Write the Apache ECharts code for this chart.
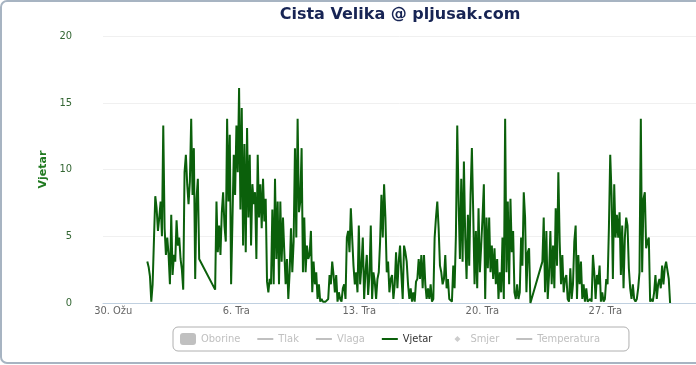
<!DOCTYPE html>
<html><head><meta charset="utf-8">
<script src="https://cdn.jsdelivr.net/npm/echarts@6/dist/echarts.min.js"></script>
<style>html,body{margin:0;padding:0;overflow:hidden;background:#fff}#c{width:696px;height:365px}</style>
</head><body><div id="c"></div>
<script>
const titleText = 'Cista Velika @ pljusak.com';
const seriesNames = ['Oborine', 'Tlak', 'Vlaga', 'Vjetar', 'Smjer', 'Temperatura'];
const tickDates = ['2015-03-30T00:00', '2015-04-06T00:00', '2015-04-13T00:00', '2015-04-20T00:00', '2015-04-27T00:00'];
const tickLabels = ['30. Ožu', '6. Tra', '13. Tra', '20. Tra', '27. Tra'];
const axisStart = '2015-03-29T10:00';
const axisEnd = '2015-05-02T03:50';
const windStart = '2015-03-31T22:30';
const windStepMinutes = 109;
const windSpeed = [
 3.1, 2.7, 2.0, 0.1, 1.4, 1.4, 8.0, 7.1, 5.4, 6.4,
 7.6, 5.0, 13.3, 5.6, 3.6, 4.9, 3.6, 1.4, 6.6, 2.1,
 3.6, 3.1, 6.2, 4.3, 4.9, 3.3, 2.5, 1.0, 9.8, 11.1,
 8.9, 7.4, 9.1, 13.8, 8.1, 11.6, 1.8, 7.8, 9.3, 3.3,
 null, null, null, null, null, null, null, null, null, null, null,
 1.0, 7.6, 3.8, 5.8, 3.6, 6.8, 8.3, 5.8, 4.6,
 13.8, 7.6, 12.6, 1.4, 6.1, 11.1, 8.1, 13.3, 9.8, 16.1,
 7.0, 14.6, 4.3, 11.9, 3.8, 13.1, 6.4, 11.1, 4.3, 8.9,
 7.4, 8.3, 3.3, 11.1, 6.4, 8.9, 5.6, 9.3, 6.1, 7.8,
 1.6, 0.8, 1.8, 1.4, 7.0, 1.4, 9.3, 3.3, 7.6, 1.4,
 7.6, 3.1, 6.4, 3.8, 1.4, 3.3, 0.3, 2.3, 5.6, 2.3,
 4.6, 11.6, 4.9, 13.8, 6.8, 7.6, 11.6, 2.3, 6.4, 2.3,
 4.3, 3.3, 3.6, 5.4, 0.8, 3.1, 1.4, 2.3, 0.3, 1.4,
 0.1, 0.3, 0.1, 0.1, 0.1, 0.1, 0.3, 2.1, 1.4, 3.1,
 2.1, 0.8, 2.1, 0.1, 0.8, 0.3, 0.1, 1.1, 1.4, 0.3,
 4.9, 5.4, 3.8, 7.1, 4.9, 2.8, 1.4, 2.3, 0.8, 5.8,
 1.4, 2.8, 4.9, 0.3, 2.3, 3.6, 0.6, 2.1, 5.8, 0.3,
 2.3, 1.6, 0.3, 1.8, 2.3, 4.6, 8.1, 4.9, 8.9, 6.4,
 2.3, 3.1, 0.8, 1.8, 2.1, 0.3, 1.4, 3.8, 1.1, 3.1,
 4.3, 2.1, 0.3, 4.3, 3.8, 3.1, 1.4, 0.3, 1.1, 0.1,
 0.8, 0.1, 1.6, 1.8, 3.3, 1.8, 3.6, 1.1, 3.6, 1.4,
 0.3, 1.1, 0.3, 1.4, 0.1, 0.3, 4.9, 6.4, 7.6, 5.6,
 2.8, 2.3, 1.4, 1.8, 3.6, 1.1, 1.8, 0.3, 0.3, 0.1,
 2.8, 1.1, 5.1, 13.3, 7.6, 3.3, 9.3, 3.1, 10.6, 4.9,
 1.8, 6.6, 2.8, 8.1, 11.6, 6.8, 1.4, 5.4, 1.1, 7.1,
 2.3, 4.3, 6.4, 8.9, 0.3, 6.4, 2.6, 6.4, 2.3, 4.3,
 1.8, 4.1, 1.4, 3.3, 0.3, 2.3, 0.8, 4.9, 0.3, 13.8,
 2.3, 7.6, 1.4, 7.8, 3.8, 5.4, 0.8, 0.3, 1.4, 0.3,
 0.8, 4.9, 2.8, 8.3, 6.4, 0.8, 3.8, 4.1, 0.0,
 null, null, null, null, null, null, null, null,
 3.1, 6.4, 0.8,
 5.4, 0.3, 2.1, 5.4, 1.4, 4.3, 1.1, 7.1, 2.8, 9.8,
 4.6, 1.4, 3.6, 0.8, 1.8, 2.1, 0.3, 0.1, 2.6, 0.3,
 1.4, 4.6, 5.8, 0.3, 3.6, 1.4, 3.1, 0.3, 1.4, 0.1,
 1.1, 0.1, 0.1, 0.3, 0.1, 3.6, 2.3, 0.3, 2.1, 1.4,
 2.8, 0.1, 0.8, 0.1, 0.3, 1.8, 1.4, 5.6, 11.1, 8.1,
 1.8, 8.9, 4.9, 6.6, 4.9, 6.8, 2.1, 5.8, 1.1, 4.9,
 6.4, 5.8, 2.6, 1.1, 0.3, 1.4, 0.3, 0.1, 0.3, 1.1,
 2.3, 13.8, 2.3, 7.8, 8.3, 4.1, 4.6, 4.9, 0.1, 0.3,
 0.1, 0.8, 2.1, 0.3, 1.4, 1.8, 1.1, 2.8, 1.4, 2.6,
 3.1, 3.1, 1.8, 0.0
];

const narrowFont = "'DejaVu Sans Condensed', 'DejaVu Sans Mono', monospace";
const t0 = new Date(windStart).getTime();
const windData = windSpeed.map((v, i) => [t0 + i * windStepMinutes * 60000, v]);
const tickTimes = tickDates.map(d => new Date(d).getTime());

const linePath = 'path://M0,0L0,0ZM16,12L16,12ZM0,5L16,5L16,7L0,7Z';
const diamondPath = 'path://M0,0L0,0ZM16,12L16,12ZM8,3L11,6L8,9L5,6Z';

const chart = echarts.init(document.getElementById('c'), null, {renderer: 'canvas'});
chart.setOption({
  animation: false,
  backgroundColor: '#fff',
  graphic: [{
    type: 'rect', silent: true, z: -10,
    shape: {x: 1, y: 1, width: 820, height: 362, r: 6},
    style: {fill: 'none', stroke: '#a7b4c2', lineWidth: 2}
  }],
  title: {
    text: titleText, left: 400, top: 7, padding: 0, textAlign: 'center',
    textStyle: {fontFamily: 'DejaVu Sans', fontWeight: 'bold', fontSize: 16, color: '#172454'}
  },
  legend: {
    left: 173, top: 327, orient: 'horizontal',
    padding: [6, 29, 6, 7],
    borderColor: '#b0b0b0', borderWidth: 1, borderRadius: 5,
    itemWidth: 16, itemHeight: 12, itemGap: 17,
    inactiveColor: '#c0c0c0',
    textStyle: {fontFamily: narrowFont, fontSize: 11, color: '#333'},
    data: [
      {name: seriesNames[0], icon: 'roundRect'},
      {name: seriesNames[1], icon: linePath},
      {name: seriesNames[2], icon: linePath},
      {name: seriesNames[3], icon: linePath},
      {name: seriesNames[4], icon: diamondPath},
      {name: seriesNames[5], icon: linePath}
    ],
    selected: {Oborine: false, Tlak: false, Vlaga: false, Vjetar: true, Smjer: false, Temperatura: false}
  },
  grid: {left: 103, right: 0, top: 36, bottom: 62, containLabel: false},
  xAxis: {
    type: 'value',
    min: new Date(axisStart).getTime(),
    max: new Date(axisEnd).getTime(),
    axisLine: {show: true, lineStyle: {color: '#c0d0e0', width: 1}},
    axisTick: {show: false},
    splitLine: {show: false},
    axisLabel: {
      customValues: tickTimes,
      showMinLabel: true, showMaxLabel: true,
      margin: 3,
      fontFamily: narrowFont, fontSize: 11, color: '#666',
      formatter: function (val) {
        const idx = tickTimes.indexOf(val);
        return idx >= 0 ? tickLabels[idx] : '';
      }
    }
  },
  yAxis: {
    type: 'value', min: 0, max: 20, interval: 5,
    name: 'Vjetar', nameLocation: 'middle', nameGap: 53, nameRotate: 90,
    nameTextStyle: {fontFamily: 'DejaVu Sans', fontWeight: 'bold', fontSize: 11, color: '#207a20'},
    axisLine: {show: false}, axisTick: {show: false},
    splitLine: {show: true, lineStyle: {color: '#f0f0f0', width: 1}},
    axisLabel: {margin: 31, fontFamily: narrowFont, fontSize: 11, color: '#336633'}
  },
  series: [
    {name: seriesNames[0], type: 'bar', data: [], itemStyle: {color: '#c0c0c0'}},
    {name: seriesNames[1], type: 'line', data: [], showSymbol: false, itemStyle: {color: '#c0c0c0'}},
    {name: seriesNames[2], type: 'line', data: [], showSymbol: false, itemStyle: {color: '#c0c0c0'}},
    {name: seriesNames[3], type: 'line', data: windData, showSymbol: false, connectNulls: true, clip: false,
      itemStyle: {color: '#0b600b'}, lineStyle: {color: '#0b600b', width: 2}},
    {name: seriesNames[4], type: 'scatter', data: [], itemStyle: {color: '#c0c0c0'}},
    {name: seriesNames[5], type: 'line', data: [], showSymbol: false, itemStyle: {color: '#c0c0c0'}}
  ]
});
</script></body></html>
